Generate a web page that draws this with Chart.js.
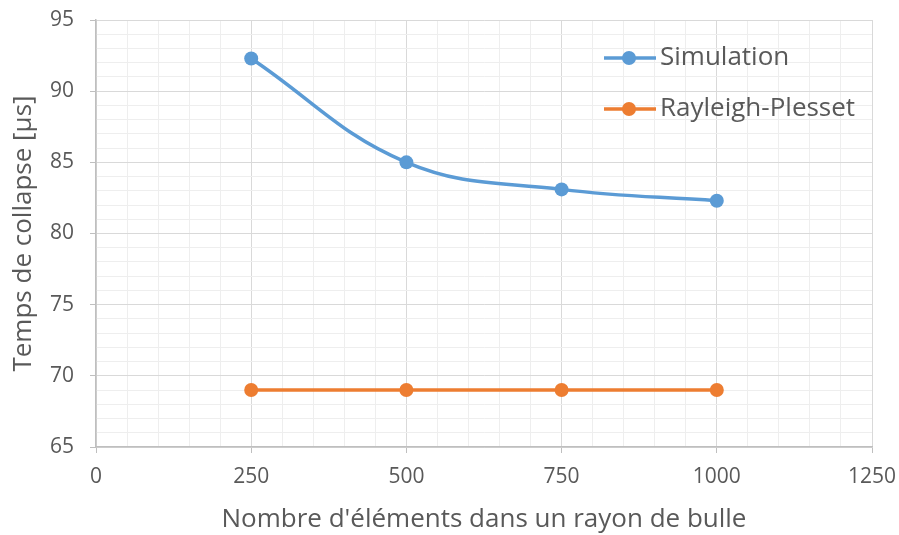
<!DOCTYPE html>
<html>
<head>
<meta charset="utf-8">
<script src="https://cdn.jsdelivr.net/npm/chart.js@4"></script>
<style>
  html, body { margin: 0; padding: 0; background: #ffffff; }
  #wrap { width: 899px; height: 535px; }
</style>
</head>
<body>
<div id="wrap"><canvas id="myChart" width="899" height="535"></canvas></div>
<script>
// nombre d'éléments par rayon de bulle
const elements = [250, 500, 750, 1000];
// temps de collapse en µs
const simulation = [92.3, 85.0, 83.1, 82.3];
const rayleighPlesset = [69.0, 69.0, 69.0, 69.0];

const xTicks = [0, 250, 500, 750, 1000, 1250];
const yTicks = [65, 70, 75, 80, 85, 90, 95];

const FONT = "'Open Sans', 'Liberation Sans', sans-serif";
const TEXT = '#595959';

const toPoints = (ys) => elements.map((x, i) => ({ x: x, y: ys[i] }));

// legend drawn inside the plot area, top right, no background
const insideLegend = {
    id: 'insideLegend',
    afterDatasetsDraw(chart) {
        const ctx = chart.ctx;
        const area = chart.chartArea;
        const x0 = area.right - 268;
        let y = area.top + 38;
        ctx.save();
        chart.data.datasets.forEach(ds => {
            ctx.strokeStyle = ds.borderColor;
            ctx.lineWidth = 3.5;
            ctx.beginPath();
            ctx.moveTo(x0, y);
            ctx.lineTo(x0 + 52, y);
            ctx.stroke();
            ctx.fillStyle = ds.backgroundColor;
            ctx.beginPath();
            ctx.arc(x0 + 25, y, 7, 0, Math.PI * 2);
            ctx.fill();
            ctx.fillStyle = TEXT;
            ctx.font = '26px ' + FONT;
            ctx.textBaseline = 'middle';
            ctx.textAlign = 'left';
            ctx.fillText(ds.label, x0 + 56, y);
            y += 51;
        });
        ctx.restore();
    }
};

const data = {
    datasets: [{
        label: 'Simulation',
        data: toPoints(simulation),
        borderColor: '#5B9BD5',
        backgroundColor: '#5B9BD5',
        borderWidth: 3.5,
        pointRadius: 7,
        pointBorderWidth: 0,
        tension: 0.4
    },
    {
        label: 'Rayleigh-Plesset',
        data: toPoints(rayleighPlesset),
        borderColor: '#ED7D31',
        backgroundColor: '#ED7D31',
        borderWidth: 3.5,
        pointRadius: 7,
        pointBorderWidth: 0,
        tension: 0.4
    }]
};

const config = {
    type: 'line',
    data: data,
    plugins: [insideLegend],
    options: {
        responsive: false,
        animation: false,
        layout: { padding: { left: 0, right: 27, top: 20, bottom: 0 } },
        plugins: {
            legend: { display: false },
            tooltip: { enabled: false }
        },
        scales: {
            x: {
                type: 'linear',
                min: xTicks[0],
                max: xTicks[xTicks.length - 1],
                afterFit: (scale) => {
                    scale.height = 88;
                    scale.paddingLeft = 0;
                    scale.paddingRight = 0;
                },
                ticks: {
                    stepSize: 50,
                    autoSkip: false,
                    maxRotation: 0,
                    padding: 11,
                    color: TEXT,
                    font: { family: FONT, size: 21 },
                    callback: (v) => xTicks.includes(v) ? String(v) : ''
                },
                grid: {
                    color: (c) => xTicks.includes(c.tick.value) ? '#d9d9d9' : '#eeeeee',
                    tickColor: (c) => xTicks.includes(c.tick.value) ? '#bfbfbf' : 'rgba(0,0,0,0)',
                    tickLength: 6,
                    lineWidth: 1
                },
                border: { color: '#bfbfbf', width: 1.5 },
                title: {
                    display: true,
                    text: "Nombre d'éléments dans un rayon de bulle",
                    color: TEXT,
                    font: { family: FONT, size: 26 },
                    padding: { top: 2, bottom: 0 }
                }
            },
            y: {
                min: yTicks[0],
                max: yTicks[yTicks.length - 1],
                afterFit: (scale) => {
                    scale.width = 96;
                    scale.paddingTop = 0;
                    scale.paddingBottom = 0;
                },
                ticks: {
                    stepSize: 1,
                    autoSkip: false,
                    padding: 16,
                    color: TEXT,
                    font: { family: FONT, size: 21 },
                    callback: (v) => yTicks.includes(v) ? String(v) : ''
                },
                grid: {
                    color: (c) => yTicks.includes(c.tick.value) ? '#d9d9d9' : '#eeeeee',
                    tickColor: (c) => yTicks.includes(c.tick.value) ? '#bfbfbf' : 'rgba(0,0,0,0)',
                    tickLength: 6,
                    lineWidth: 1
                },
                border: { color: '#bfbfbf', width: 1.5 },
                title: {
                    display: true,
                    text: 'Temps de collapse [µs]',
                    color: TEXT,
                    font: { family: FONT, size: 26 },
                    padding: { top: 8, bottom: 0 }
                }
            }
        }
    }
};

const myChart = new Chart(document.getElementById('myChart'), config);
</script>
</body>
</html>
